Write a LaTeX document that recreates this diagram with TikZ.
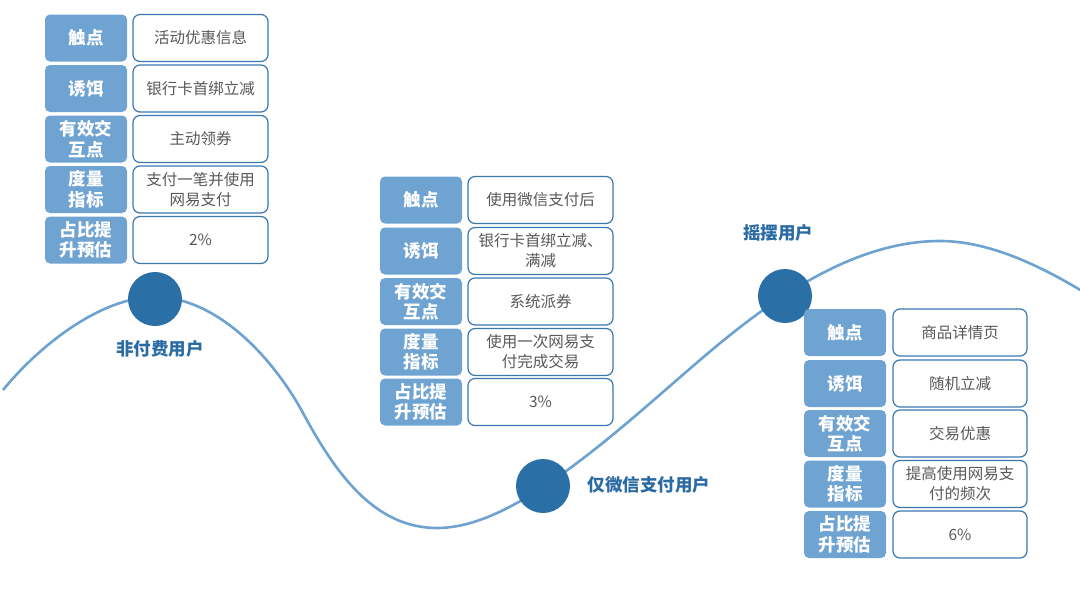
\documentclass[tikz,border=0pt]{standalone}
\usepackage{fontspec}
\setmainfont{Noto Sans CJK SC}
\definecolor{labfill}{HTML}{6FA3D2}
\definecolor{valdraw}{HTML}{3B78B3}
\definecolor{valtext}{HTML}{595959}
\definecolor{curvecol}{HTML}{6EA2D0}
\definecolor{dotcol}{HTML}{2A6FA5}
\definecolor{headcol}{HTML}{2A6BA3}
\begin{document}
\begin{tikzpicture}[x=1pt,y=-1pt,
  lab/.style={fill=labfill, rounded corners=5pt, text=white, font=\fontsize{17.5}{20.5}\selectfont\bfseries, align=center, minimum width=82pt, minimum height=47pt, inner sep=0pt},
  val/.style={draw=valdraw, line width=1.2pt, fill=white, rounded corners=7pt, text=valtext, font=\fontsize{15.5}{20}\selectfont, align=center, minimum height=47pt, inner sep=0pt},
  dot/.style={circle, fill=dotcol, minimum size=54pt, inner sep=0pt},
  head/.style={text=headcol, font=\fontsize{17.5}{20}\selectfont\bfseries, inner sep=0pt},
  curve/.style={draw=curvecol, line width=2.6pt}]
\useasboundingbox (0,0) rectangle (1080,608);
\fill[white] (0,0) rectangle (1080,608);
% curve
\coordinate (p0) at (3,390);
\coordinate (p1) at (155,297);
\coordinate (p2) at (303,413);
\coordinate (p3) at (437,528);
\coordinate (p4) at (543,487);
\coordinate (p5) at (700,360);
\coordinate (p6) at (940,241);
\coordinate (p7) at (1082,291);
\draw[curve] (p0) .. controls (38,347) and (100,297) .. (p1)
  .. controls (217,297) and (273.5,358.4) .. (p2)
  .. controls (336.3,474.6) and (375,528) .. (p3)
  .. controls (474,528) and (512,507.4) .. (p4)
  .. controls (599,450) and (649,403.6) .. (p5)
  .. controls (767.6,302.1) and (851,241) .. (p6)
  .. controls (989,241) and (1040,265.8) .. (p7);
% circles
\node[dot] (c1) at (155,299) {};
\node[dot] (c2) at (543,486) {};
\node[dot] (c3) at (785,296) {};
\node[head] (h1) at (160,349) {非付费用户};
\node[head] (h2) at (649,485) {仅微信支付用户};
\node[head] (h3) at (778,233) {摇摆用户};
% table 1
\node[lab] (a1) at (86,38) {触点};
\node[val, minimum width=135pt] (b1) at (200.5,38) {活动优惠信息};
\node[lab] (a2) at (86,88.5) {诱饵};
\node[val, minimum width=135pt] (b2) at (200.5,88.5) {银行卡首绑立减};
\node[lab] (a3) at (86,139) {有效交\\互点};
\node[val, minimum width=135pt] (b3) at (200.5,139) {主动领券};
\node[lab] (a4) at (86,189.5) {度量\\指标};
\node[val, minimum width=135pt] (b4) at (200.5,189.5) {支付一笔并使用\\网易支付};
\node[lab] (a5) at (86,240) {占比提\\升预估};
\node[val, minimum width=135pt] (b5) at (200.5,240) {2\%};
% table 2
\node[lab] (d1) at (421,200) {触点};
\node[val, minimum width=145pt] (e1) at (540.5,200) {使用微信支付后};
\node[lab] (d2) at (421,251) {诱饵};
\node[val, minimum width=145pt] (e2) at (540.5,251) {银行卡首绑立减、\\满减};
\node[lab] (d3) at (421,301.5) {有效交\\互点};
\node[val, minimum width=145pt] (e3) at (540.5,301.5) {系统派券};
\node[lab] (d4) at (421,352) {度量\\指标};
\node[val, minimum width=145pt] (e4) at (540.5,352) {使用一次网易支\\付完成交易};
\node[lab] (d5) at (421,402) {占比提\\升预估};
\node[val, minimum width=145pt] (e5) at (540.5,402) {3\%};
% table 3
\node[lab] (f1) at (845,332.5) {触点};
\node[val, minimum width=134pt] (g1) at (960,332.5) {商品详情页};
\node[lab] (f2) at (845,383.5) {诱饵};
\node[val, minimum width=134pt] (g2) at (960,383.5) {随机立减};
\node[lab] (f3) at (845,433.5) {有效交\\互点};
\node[val, minimum width=134pt] (g3) at (960,433.5) {交易优惠};
\node[lab] (f4) at (845,484) {度量\\指标};
\node[val, minimum width=134pt] (g4) at (960,484) {提高使用网易支\\付的频次};
\node[lab] (f5) at (845,534.5) {占比提\\升预估};
\node[val, minimum width=134pt] (g5) at (960,534.5) {6\%};
\end{tikzpicture}
\end{document}
